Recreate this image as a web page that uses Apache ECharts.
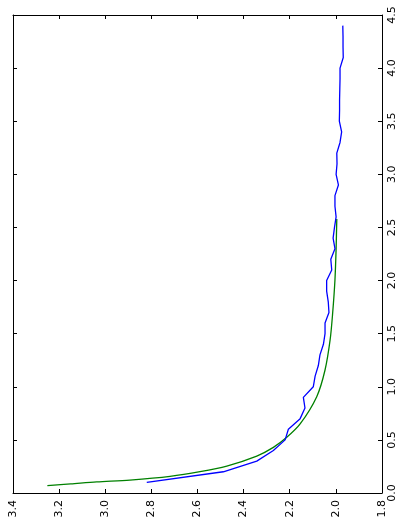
<!DOCTYPE html>
<html>
<head>
<meta charset="utf-8">
<script src="https://cdn.jsdelivr.net/npm/echarts@6/dist/echarts.min.js"></script>
<style>
html,body{margin:0;padding:0;background:#fff;}
#c{width:402px;height:521px;}
</style>
</head>
<body>
<div id="c"></div>
<script>
// Vertical axis (original x) and horizontal axis (original y) values
var blueT = [0.1,0.2,0.3,0.4,0.5,0.6,0.7,0.8,0.9,1.0,1.1,1.2,1.3,1.4,1.5,1.6,1.7,1.8,1.9,2.0,2.1,2.2,2.3,2.4,2.5,2.6,2.7,2.8,2.9,3.0,3.1,3.2,3.3,3.4,3.5,3.6,3.7,3.8,3.9,4.0,4.1,4.2,4.3,4.4];
var blueV = [2.820,2.488,2.343,2.271,2.220,2.206,2.155,2.134,2.141,2.098,2.090,2.076,2.069,2.054,2.047,2.047,2.030,2.033,2.040,2.040,2.018,2.022,2.004,2.012,2.006,1.999,2.004,2.004,1.989,1.999,1.995,1.996,1.982,1.975,1.985,1.984,1.984,1.983,1.982,1.982,1.968,1.969,1.969,1.970];
var greenT = [0.069,0.085,0.104,0.122,0.157,0.201,0.254,0.348,0.430,0.524,0.650,0.907,1.158,1.441,1.692,2.006,2.300,2.580];
var greenV = [3.251,3.150,3.037,2.893,2.719,2.589,2.473,2.343,2.271,2.213,2.155,2.083,2.047,2.025,2.014,2.004,1.999,1.996];
var hTicks = [1.8,2.0,2.2,2.4,2.6,2.8,3.0,3.2,3.4];
var vTicks = [0.0,0.5,1.0,1.5,2.0,2.5,3.0,3.5,4.0,4.5];

function pairs(vs, ts){ return ts.map(function(t,i){ return [vs[i], t]; }); }

var chart = echarts.init(document.getElementById('c'), null, {renderer:'canvas'});
var lineStyle = {color:'#000', width:1};
var font = {fontFamily:'DejaVu Sans', fontSize:11, color:'#000'};
chart.setOption({
  animation:false,
  backgroundColor:'#fff',
  grid:{left:13, right:20, top:15, bottom:28, containLabel:false},
  xAxis:[{
    type:'value', min:hTicks[0], max:hTicks[hTicks.length-1], interval:0.2, inverse:true, position:'bottom',
    axisLine:{show:true, onZero:false, lineStyle:lineStyle},
    axisTick:{show:true, inside:true, length:4, lineStyle:lineStyle},
    axisLabel:Object.assign({rotate:90, margin:7, showMinLabel:true, showMaxLabel:true, hideOverlap:false,
      formatter:function(v){return v.toFixed(1);}}, font),
    splitLine:{show:false}
  },{
    type:'value', min:hTicks[0], max:hTicks[hTicks.length-1], interval:0.2, inverse:true, position:'top',
    axisLine:{show:true, onZero:false, lineStyle:lineStyle},
    axisTick:{show:true, inside:true, length:4, lineStyle:lineStyle},
    axisLabel:{show:false}, splitLine:{show:false}
  }],
  yAxis:[{
    type:'value', min:vTicks[0], max:vTicks[vTicks.length-1], interval:0.5, position:'right',
    axisLine:{show:true, onZero:false, lineStyle:lineStyle},
    axisTick:{show:true, inside:true, length:4, lineStyle:lineStyle},
    axisLabel:Object.assign({rotate:90, margin:5, showMinLabel:true, showMaxLabel:true, hideOverlap:false,
      formatter:function(v){return v.toFixed(1);}}, font),
    splitLine:{show:false}
  },{
    type:'value', min:vTicks[0], max:vTicks[vTicks.length-1], interval:0.5, position:'left',
    axisLine:{show:true, onZero:false, lineStyle:lineStyle},
    axisTick:{show:true, inside:true, length:4, lineStyle:lineStyle},
    axisLabel:{show:false}, splitLine:{show:false}
  }],
  series:[{
    type:'line', xAxisIndex:0, yAxisIndex:0, data:pairs(blueV, blueT), showSymbol:false, symbol:'none',
    lineStyle:{color:'#0000ff', width:1.3}, z:3
  },{
    type:'line', xAxisIndex:0, yAxisIndex:0, data:pairs(greenV, greenT), showSymbol:false, symbol:'none', smooth:0.3,
    lineStyle:{color:'#008000', width:1.3}, z:2
  }]
});
</script>
</body>
</html>
